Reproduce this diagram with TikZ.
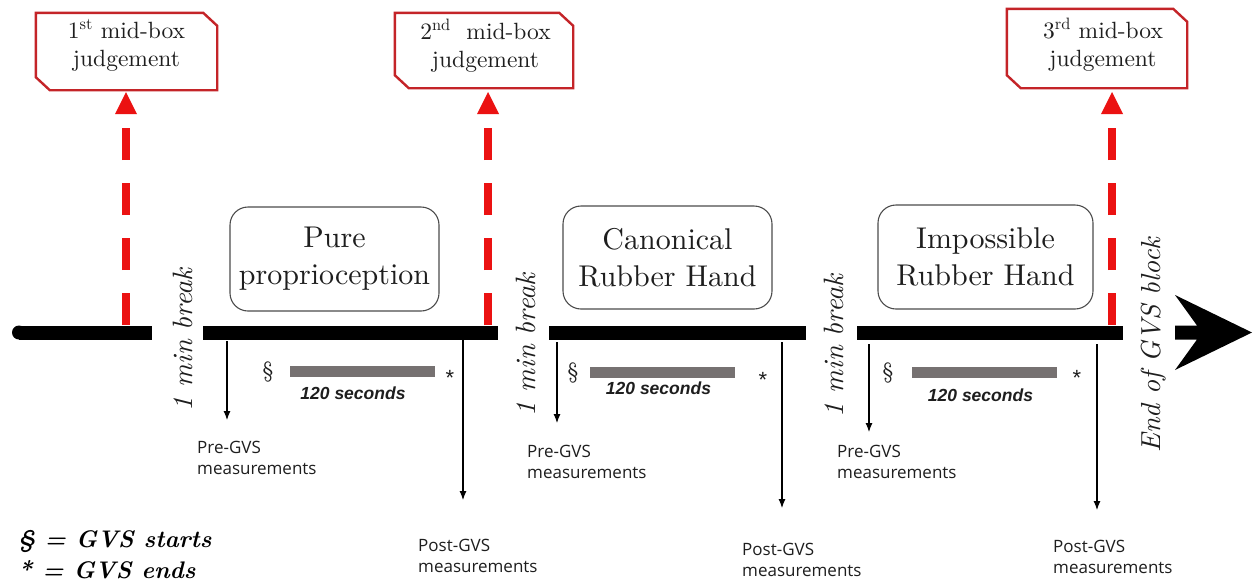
\documentclass[tikz,border=0pt]{standalone}
\usepackage{fontspec}
\setmainfont{lmroman10}[Extension=.otf, UprightFont=*-regular, ItalicFont=*-italic, BoldFont=*-bold, BoldItalicFont=*-bolditalic]
\newfontfamily\osans{Open Sans}
\newfontfamily\arialf{Liberation Sans}
\usetikzlibrary{arrows.meta}
\definecolor{boxred}{RGB}{196,36,40}
\definecolor{dashred}{RGB}{235,18,18}
\definecolor{bargray}{RGB}{118,113,113}
\definecolor{txt}{RGB}{30,30,30}
\begin{document}
\begin{tikzpicture}[x=1pt,y=-1pt,
  midframe/.style={draw=boxred, line width=2.4pt, line join=miter},
  midanchor/.style={inner sep=0pt, draw=none},
  midtext/.style={align=center, text=txt, inner sep=0pt, font=\fontsize{23.5}{28}\selectfont},
  condbox/.style={draw=black!70, line width=1.1pt, rounded corners=18pt, align=center, text=txt, inner sep=0pt, font=\fontsize{30}{37}\selectfont},
  timebar/.style={line width=14pt},
  reddash/.style={draw=dashred, line width=8pt, dash pattern=on 32pt off 23pt},
  redtip/.style={fill=dashred},
  gvsbar/.style={draw=bargray, line width=11pt},
  thinarrow/.style={draw=black, line width=1.1pt, -{Latex[length=9pt,width=7pt]}},
  measlabel/.style={align=left, anchor=north west, inner sep=0pt, text=txt, font=\osans\fontsize{17}{21}\selectfont},
  breaktext/.style={rotate=90, anchor=base, inner sep=0pt, text=txt, font=\itshape\fontsize{28}{34}\selectfont},
  secs/.style={inner sep=0pt, text=txt, font=\arialf\bfseries\itshape\fontsize{17.5}{20}\selectfont},
  startmark/.style={inner sep=0pt, text=txt, font=\fontsize{22}{26}\selectfont},
  endmark/.style={inner sep=0pt, anchor=base, text=txt, font=\arialf\fontsize{22}{24}\selectfont},
  legendtext/.style={anchor=base west, inner sep=0pt, text=black, font=\bfseries\itshape\fontsize{24}{30}\selectfont},
]
\useasboundingbox (0,0) rectangle (1259,587);
\fill[white] (0,0) rectangle (1259,587);

% ---- mid-box judgement boxes
\node[midanchor, minimum width=181pt, minimum height=77pt] (m1) at (126.5,51.5) {};
\node[midanchor, minimum width=178pt, minimum height=75pt] (m2) at (484,50.5) {};
\node[midanchor, minimum width=180pt, minimum height=79pt] (m3) at (1097,48.5) {};
\foreach \m in {m1,m2,m3}{
  \draw[midframe] (\m.north west) -- ([xshift=-14pt]\m.north east) -- ([yshift=-13pt]\m.north east)
     -- (\m.south east) -- ([xshift=14pt]\m.south west) -- ([yshift=13pt]\m.south west) -- cycle;
}
\node[midtext] (m1t) at ([yshift=6pt]m1.center) {1\textsuperscript{st} mid-box\\judgement};
\node[midtext] (m2t) at ([xshift=1.5pt,yshift=4.5pt]m2.center) {2\textsuperscript{nd}\ \ mid-box\\judgement};
\node[midtext] (m3t) at ([xshift=6pt,yshift=3.7pt]m3.center) {3\textsuperscript{rd} mid-box\\judgement};

% ---- red dashed arrows
\coordinate (d1) at (126,325);  \coordinate (e1) at (126,128);  \coordinate (t1) at (126,92);
\coordinate (d2) at (488,325);  \coordinate (e2) at (488,128);  \coordinate (t2) at (488,92);
\coordinate (d3) at (1112,325); \coordinate (e3) at (1112,128); \coordinate (t3) at (1112,92);
\foreach \i in {1,2,3}{
  \draw[reddash] (d\i) -- (e\i);
  \fill[redtip] (t\i) -- ++(11,22) -- ++(-22,0) -- cycle;
}

% ---- timeline
\fill (19,325.5) rectangle (152,339.5);
\fill (19,332.5) circle[radius=7];
\draw[timebar] (203,332.5) -- (498,332.5);
\draw[timebar] (549,332.5) -- (806,332.5);
\draw[timebar] (857,332.5) -- (1123,332.5);
\fill (1175,325.5) -- (1197,325.5) -- (1175,295) -- (1252,332.5) -- (1175,370)
      -- (1197,339.5) -- (1175,339.5) -- cycle;

% ---- condition boxes
\node[condbox, minimum width=209pt, minimum height=104pt] (c1) at (334.5,259) {Pure\\proprioception};
\node[condbox, minimum width=209pt, minimum height=103pt] (c2) at (667.5,257.5) {Canonical\\Rubber Hand};
\node[condbox, minimum width=215pt, minimum height=104pt] (c3) at (985.5,257) {Impossible\\Rubber Hand};

% ---- rotated labels
\node[breaktext] (b1) at (192,340) {1 min break};
\node[breaktext] (b2) at (535,345) {1 min break};
\node[breaktext] (b3) at (843,346) {1 min break};
\node[breaktext, font=\itshape\fontsize{27.5}{34}\selectfont] (endb) at (1160,345) {End of GVS block};

% ---- GVS stimulation bars
\draw[gvsbar] (290,371.5) -- (435,371.5);
\draw[gvsbar] (590,372.5) -- (735,372.5);
\draw[gvsbar] (912,372.5) -- (1057,372.5);
\node[startmark] (s1) at (268,372) {\S};
\node[startmark] (s2) at (573,373) {\S};
\node[startmark] (s3) at (888,373) {\S};
\node[endmark] (a1) at (450,385) {*};
\node[endmark] (a2) at (763,387) {*};
\node[endmark] (a3) at (1077,385) {*};
\node[secs] (sec1) at (353,393) {120 seconds};
\node[secs] (sec2) at (658.5,388) {120 seconds};
\node[secs] (sec3) at (980.5,395) {120 seconds};

% ---- measurement arrows
\coordinate (p1s) at (227,341);  \coordinate (p1e) at (227,420);
\coordinate (p2s) at (557,342);  \coordinate (p2e) at (557,423);
\coordinate (p3s) at (869,344);  \coordinate (p3e) at (869,432);
\coordinate (q1s) at (463,340);  \coordinate (q1e) at (463,500);
\coordinate (q2s) at (782,342);  \coordinate (q2e) at (782,508);
\coordinate (q3s) at (1097,344); \coordinate (q3e) at (1097,510);
\foreach \i in {1,2,3}{
  \draw[thinarrow] (p\i s) -- (p\i e);
  \draw[thinarrow] (q\i s) -- (q\i e);
}
\node[measlabel] (pre1) at (197,440.5) {Pre-GVS\\measurements};
\node[measlabel] (pre2) at (527,444.5) {Pre-GVS\\measurements};
\node[measlabel] (pre3) at (837,444.5) {Pre-GVS\\measurements};
\node[measlabel] (post1) at (418,538.5) {Post-GVS\\measurements};
\node[measlabel] (post2) at (742,542.5) {Post-GVS\\measurements};
\node[measlabel] (post3) at (1053,539.5) {Post-GVS\\measurements};

% ---- legend
\node[legendtext] (lg1) at (18,547) {\S\ = GVS starts};
\node[legendtext] (lg2) at (18,578) {* = GVS ends};
\end{tikzpicture}
\end{document}
